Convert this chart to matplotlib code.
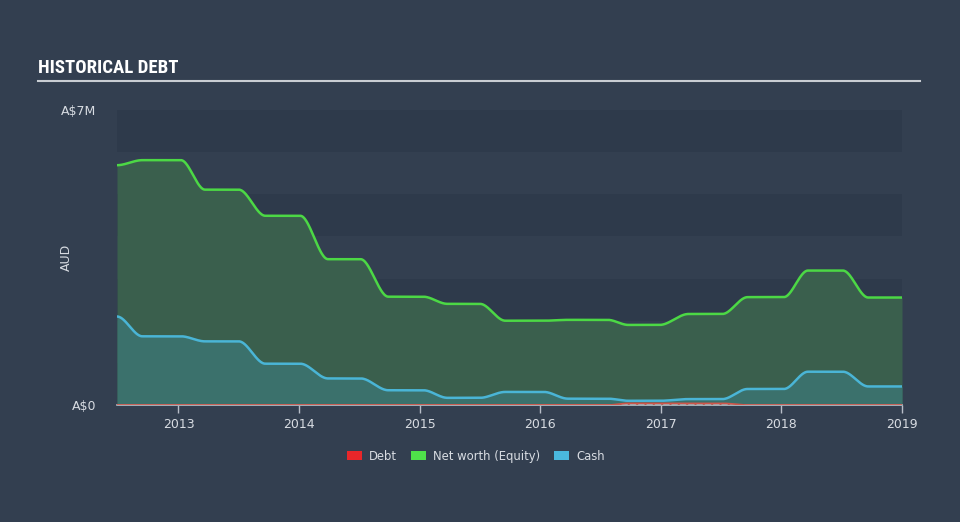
import numpy as np
import matplotlib
matplotlib.use("Agg")
import matplotlib.pyplot as plt
from matplotlib.patches import Patch
from matplotlib import font_manager as fm

# ---- data (values in millions AUD) ----
t = [2012.49, 2012.70, 2013.02, 2013.22, 2013.50, 2013.72, 2014.01, 2014.24,
     2014.51, 2014.74, 2015.03, 2015.23, 2015.50, 2015.71, 2016.03, 2016.23,
     2016.56, 2016.73, 2016.99, 2017.23, 2017.51, 2017.72, 2018.02, 2018.22,
     2018.51, 2018.72, 2019.00]
equity = [5.69, 5.81, 5.81, 5.11, 5.11, 4.49, 4.49, 3.46,
          3.46, 2.57, 2.57, 2.40, 2.40, 2.00, 2.00, 2.02,
          2.02, 1.90, 1.90, 2.16, 2.16, 2.56, 2.56, 3.19,
          3.19, 2.55, 2.55]
cash = [2.10, 1.63, 1.63, 1.51, 1.51, 0.98, 0.98, 0.63,
        0.63, 0.35, 0.35, 0.17, 0.17, 0.31, 0.31, 0.15,
        0.15, 0.10, 0.10, 0.14, 0.14, 0.38, 0.38, 0.79,
        0.79, 0.44, 0.44]
debt = [0.0, 0.0, 0.0, 0.0, 0.0, 0.0, 0.0, 0.0,
        0.0, 0.0, 0.0, 0.0, 0.0, 0.0, 0.0, 0.0,
        0.0, 0.04, 0.04, 0.04, 0.04, 0.0, 0.0, 0.0,
        0.0, 0.0, 0.0]
year_ticks = [2013, 2014, 2015, 2016, 2017, 2018, 2019]
y_max = 7


def pchip(x, y, xn):
    x = np.asarray(x, float); y = np.asarray(y, float)
    h = np.diff(x); d = np.diff(y) / h
    n = len(x); m = np.zeros(n)
    for k in range(1, n - 1):
        if d[k - 1] * d[k] > 0:
            w1 = 2 * h[k] + h[k - 1]; w2 = h[k] + 2 * h[k - 1]
            m[k] = (w1 + w2) / (w1 / d[k - 1] + w2 / d[k])
    m[0] = 0; m[-1] = 0
    idx = np.clip(np.searchsorted(x, xn) - 1, 0, n - 2)
    hh = h[idx]; s = (xn - x[idx]) / hh
    h00 = 2 * s**3 - 3 * s**2 + 1; h10 = s**3 - 2 * s**2 + s
    h01 = -2 * s**3 + 3 * s**2; h11 = s**3 - s**2
    return h00 * y[idx] + h10 * hh * m[idx] + h01 * y[idx + 1] + h11 * hh * m[idx + 1]


xs = np.linspace(t[0], t[-1], 1500)
eq_s = pchip(t, equity, xs)
ca_s = pchip(t, cash, xs)
de_s = pchip(t, debt, xs)

# pick a condensed family for the title if one exists
names = {f.name for f in fm.fontManager.ttflist}
title_fam = []
for cand in ["Liberation Sans Narrow", "DejaVu Sans Condensed", "Roboto Condensed",
             "Open Sans Condensed", "Noto Sans Condensed"]:
    if cand in names:
        title_fam.append(cand)
title_fam.append("DejaVu Sans")

BG = "#333f50"
fig = plt.figure(figsize=(9.6, 5.22), dpi=100, facecolor=BG)
ax = fig.add_axes([117 / 960, 1 - 405 / 522, 785 / 960, 295 / 522])
ax.set_facecolor(BG)

# background bands
for i in range(7):
    col = "#2e3a4b" if i % 2 == 0 else "#333f50"
    ax.axhspan(y_max - i - 1, y_max - i, color=col, zorder=0, lw=0)

ax.fill_between(xs, 0, eq_s, color="#3a5f4d", zorder=1, lw=0)
ax.plot(xs, eq_s, color="#4cd845", lw=1.8, zorder=4)
ax.fill_between(xs, 0, ca_s, color="#3b716c", zorder=2, lw=0)
ax.plot(xs, ca_s, color="#4ab5d6", lw=1.8, zorder=5)
ax.fill_between(xs, 0, de_s, facecolor="none", edgecolor="#b0605a", hatch="////", lw=0, zorder=3)
ax.plot(xs, de_s, color="#d0564a", lw=1.2, zorder=6)

ax.set_xlim(t[0], t[-1])
ax.set_ylim(0, y_max)
for s in ["top", "right", "left"]:
    ax.spines[s].set_visible(False)
ax.spines["bottom"].set_color("#b8bec8")
ax.spines["bottom"].set_linewidth(1.2)

ax.set_xticks(year_ticks)
ax.set_xticklabels([str(y) for y in year_ticks])
ax.tick_params(axis="x", colors="#b8bec8", labelcolor="#d8dce2", length=6, width=1, labelsize=9, pad=3)
ax.set_yticks([0, y_max])
ax.set_yticklabels(["A$0", "A$7M"])
ax.tick_params(axis="y", length=0, labelcolor="#d8dce2", labelsize=9, pad=15)
ax.set_ylabel("AUD", color="#d8dce2", fontsize=9)
ax.yaxis.set_label_coords(-(117 - 73) / 785, 0.5)

fig.text(38 / 960, 1 - 68 / 522, "HISTORICAL DEBT", color="white", fontsize=13.5,
         fontweight="bold", fontstretch="condensed", family=title_fam, va="center", ha="left")
fig.add_artist(plt.Line2D([38 / 960, 920 / 960], [1 - 81 / 522, 1 - 81 / 522],
                          color="#c9cdd3", lw=1.5))

handles = [Patch(facecolor="#e8262a", label="Debt"),
           Patch(facecolor="#4fe04a", label="Net worth (Equity)"),
           Patch(facecolor="#4ab8de", label="Cash")]
leg = fig.legend(handles=handles, loc="center", bbox_to_anchor=(476 / 960, 1 - 456 / 522),
                 ncol=3, frameon=False, fontsize=8.4, handlelength=1.3, handleheight=0.9,
                 columnspacing=1.2, handletextpad=0.6)
for txt in leg.get_texts():
    txt.set_color("#d8dce2")

fig.savefig("out.png", dpi=100, facecolor=BG)
